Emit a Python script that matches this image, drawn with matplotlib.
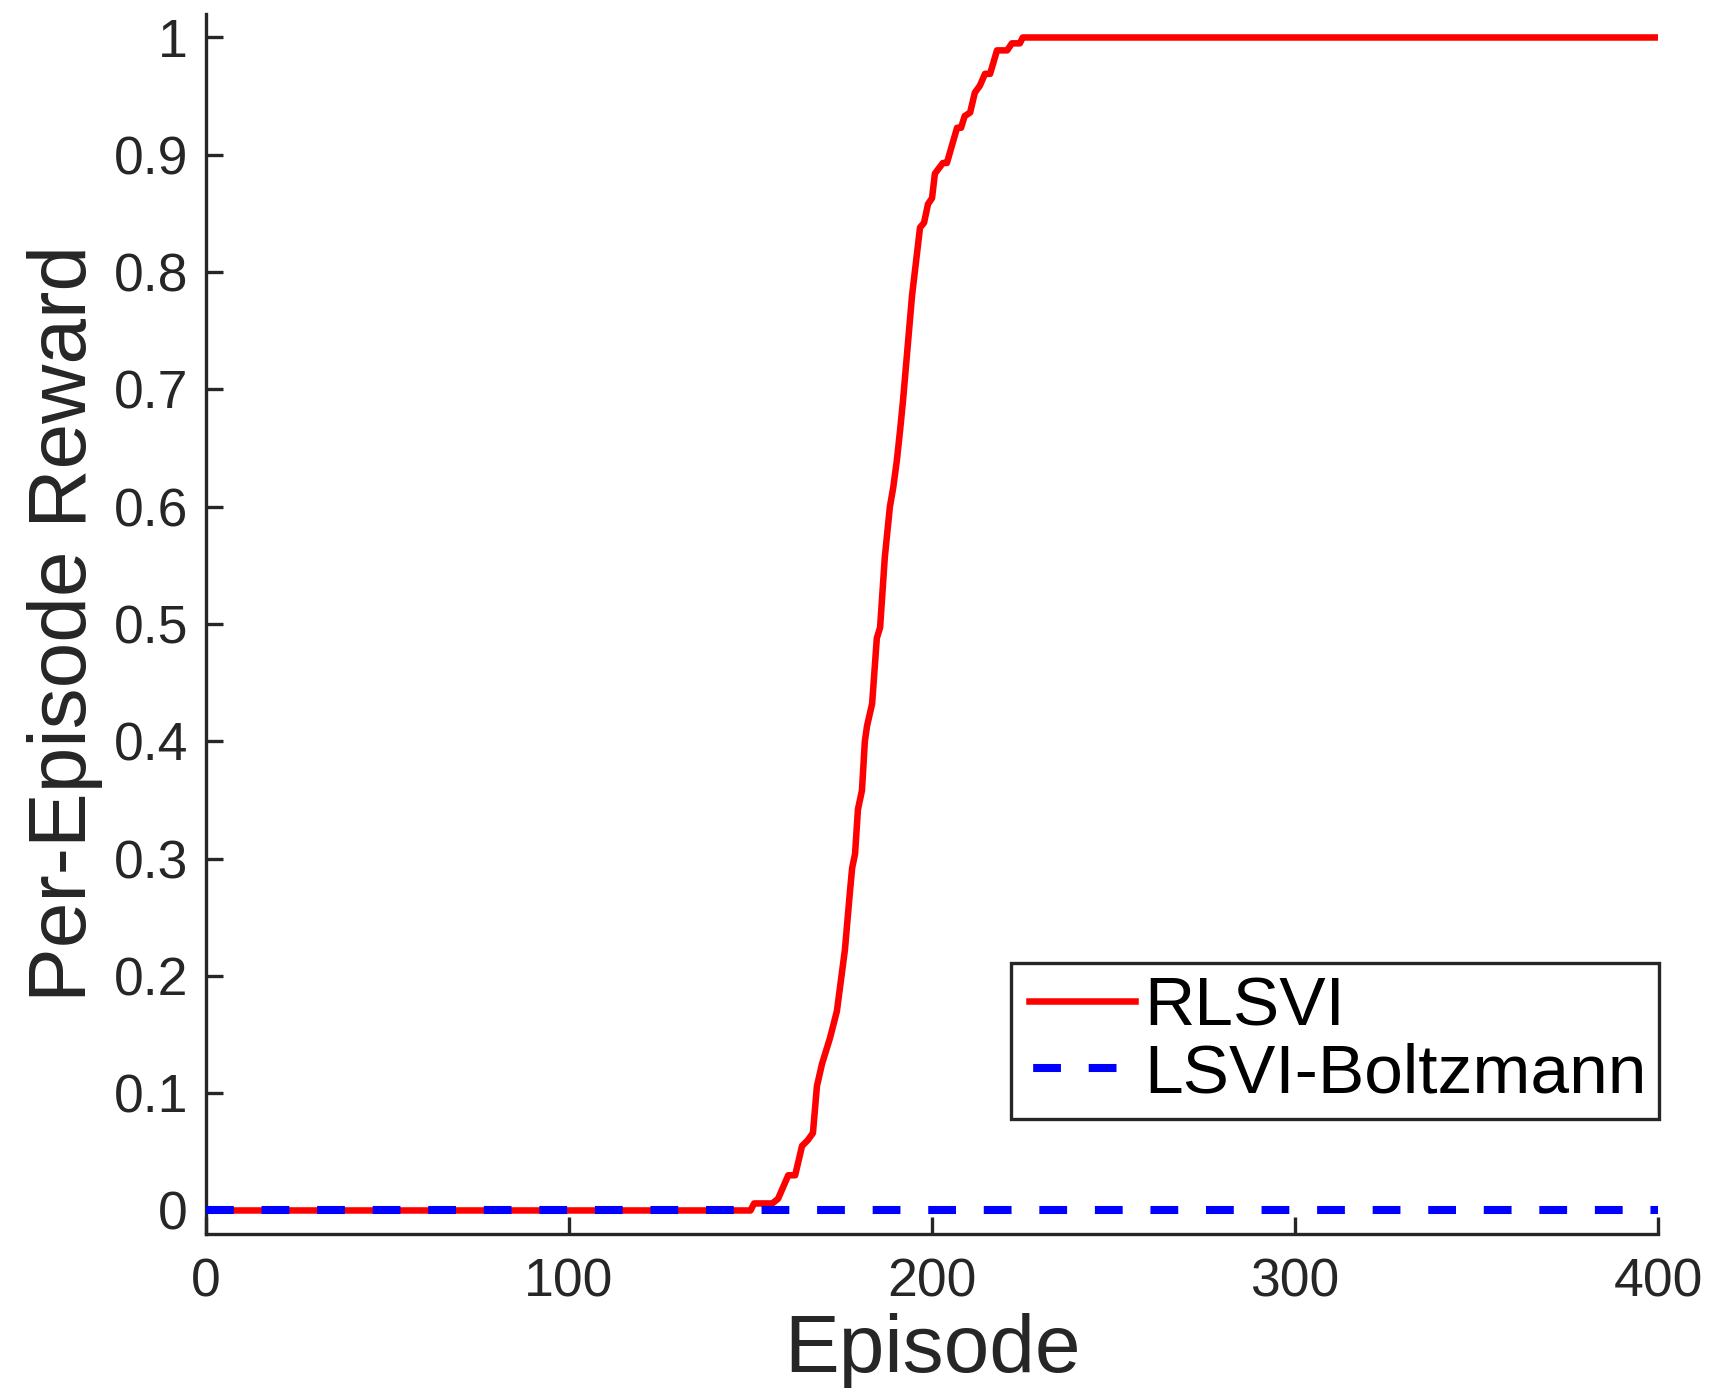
import matplotlib
matplotlib.use("Agg")
import matplotlib.pyplot as plt
from matplotlib.lines import Line2D
from matplotlib.legend_handler import HandlerLine2D

# RLSVI learning curve (mean per-episode reward)
rlsvi_episode = [0, 150, 151, 156, 157.6, 159, 160.4, 162.3, 164.2, 165.8, 167.2,
                 168.3, 169.7, 171.9, 173.8, 176, 177.4, 178, 178.8, 179.6, 180.7,
                 181.5, 182.1, 183.5, 184.8, 185.7, 187, 188.4, 189.3, 190.3, 191.2,
                 192, 194.5, 196.7, 197.8, 198.9, 200, 200.8, 203, 204.1, 206.9,
                 208, 209, 210.5, 211.8, 213.2, 214.6, 216, 217.9, 220.7, 222,
                 224.2, 225, 400]
rlsvi_reward = [0, 0, 0.006, 0.006, 0.01, 0.02, 0.03, 0.03, 0.055, 0.06, 0.066,
                0.106, 0.125, 0.147, 0.17, 0.222, 0.272, 0.292, 0.304, 0.342, 0.358,
                0.40, 0.413, 0.432, 0.488, 0.497, 0.557, 0.60, 0.616, 0.639, 0.665,
                0.69, 0.78, 0.838, 0.842, 0.858, 0.863, 0.884, 0.893, 0.893, 0.923,
                0.923, 0.933, 0.936, 0.953, 0.959, 0.969, 0.969, 0.989, 0.989, 0.995,
                0.995, 1.0, 1.0]

# LSVI with Boltzmann exploration never collects reward
boltz_episode = [0, 400]
boltz_reward = [0, 0]

x_ticks = [0, 100, 200, 300, 400]
y_ticks = [0, 0.1, 0.2, 0.3, 0.4, 0.5, 0.6, 0.7, 0.8, 0.9, 1.0]
y_tick_labels = ["0", "0.1", "0.2", "0.3", "0.4", "0.5", "0.6", "0.7", "0.8", "0.9", "1"]

plt.rcParams["font.family"] = ["Liberation Sans", "DejaVu Sans"]
plt.rcParams["lines.scale_dashes"] = False

dark = "#262626"

fig = plt.figure(figsize=(17.12, 13.88), dpi=100)
ax = fig.add_axes([0.1203, 0.1110, 0.8482, 0.8789])

ax.plot(rlsvi_episode, rlsvi_reward, color="#ff0000", lw=4.7,
        label="RLSVI", zorder=2)
ax.plot(boltz_episode, boltz_reward, color="#0000ff", lw=5.8,
        dashes=(20, 20), label="LSVI-Boltzmann", zorder=3)

ax.set_xlim(0, 400)
ax.set_ylim(-0.02, 1.02)
ax.set_xticks(x_ticks)
ax.set_xticklabels([str(t) for t in x_ticks])
ax.set_yticks(y_ticks)
ax.set_yticklabels(y_tick_labels)

for side in ("top", "right"):
    ax.spines[side].set_visible(False)
for side in ("left", "bottom"):
    ax.spines[side].set_linewidth(2.4)
    ax.spines[side].set_color(dark)

ax.tick_params(axis="both", direction="in", length=12, width=2.4, color=dark,
               labelsize=38.5, labelcolor=dark)
ax.tick_params(axis="y", pad=13)
ax.tick_params(axis="x", pad=17)

ax.set_xlabel("Episode", fontsize=59, color=dark, labelpad=4)
ax.set_ylabel("Per-Episode Reward", fontsize=59, color=dark)
ax.yaxis.set_label_coords(-0.071, 0.5)

leg = ax.legend(loc="upper left", bbox_to_anchor=(0.5545, 0.2221),
                borderaxespad=0, frameon=True, fancybox=False, framealpha=1,
                edgecolor=dark, handlelength=1.61, handletextpad=0.13,
                borderpad=0.18, labelspacing=0.04, fontsize=50,
                handler_map={Line2D: HandlerLine2D(xpad=0.08)})
leg.get_frame().set_linewidth(2.4)
for txt in leg.get_texts():
    txt.set_color("black")
leg.get_lines()[1].set_linestyle((37, (20, 20)))

fig.savefig("out.png", dpi=100)
